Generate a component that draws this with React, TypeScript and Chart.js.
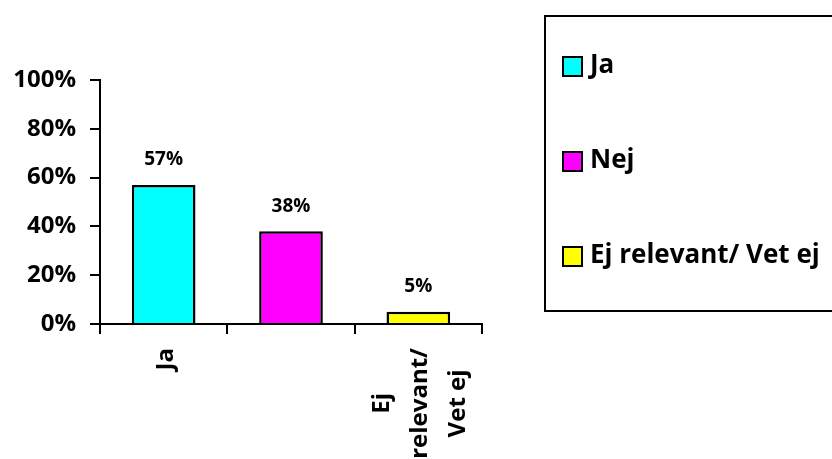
import React, { useEffect, useRef } from "react";
import { Chart, registerables } from "chart.js";

Chart.register(...registerables);

const categories = ["Ja", "Nej", "Ej relevant/ Vet ej"];
const values = [57, 38, 5];
const xTickLabels: (string | string[])[] = ["Ja", "", ["Ej", "relevant/", "Vet ej"]];
const yTicks = [0, 20, 40, 60, 80, 100];
const colors = ["#00FFFF", "#FF00FF", "#FFFF00"];

const FONT = '"Open Sans", "Noto Sans", sans-serif';

const valueLabels = {
  id: "valueLabels",
  afterDatasetsDraw(chart: any) {
    const ctx = chart.ctx;
    const meta = chart.getDatasetMeta(0);
    ctx.save();
    ctx.font = `bold 19px ${FONT}`;
    ctx.fillStyle = "#000";
    ctx.textAlign = "center";
    ctx.textBaseline = "middle";
    meta.data.forEach((el: any, i: number) => {
      ctx.fillText(values[i] + "%", el.x, el.y - 25);
    });
    ctx.restore();
  },
};

const xLabels = {
  id: "xLabels",
  afterDraw(chart: any) {
    const xs = chart.scales.x;
    const ctx = chart.ctx;
    ctx.save();
    ctx.font = `bold 24px ${FONT}`;
    ctx.fillStyle = "#000";
    ctx.textAlign = "center";
    ctx.textBaseline = "middle";
    const lineGap = 38;
    xTickLabels.forEach((lab, i) => {
      const lines = Array.isArray(lab) ? lab : [lab];
      if (!lines.join("")) return;
      const maxW = Math.max(...lines.map((l) => ctx.measureText(l).width));
      const cx = xs.getPixelForTick(i);
      ctx.save();
      ctx.translate(cx + 2, xs.top + 24);
      ctx.rotate(-Math.PI / 2);
      lines.forEach((l, k) => {
        ctx.fillText(l, -maxW / 2, (k - (lines.length - 1) / 2) * lineGap);
      });
      ctx.restore();
    });
    ctx.restore();
  },
};

const boxLegend = {
  id: "boxLegend",
  afterDraw(chart: any) {
    const ctx = chart.ctx;
    ctx.save();
    ctx.strokeStyle = "#000";
    ctx.lineWidth = 2;
    ctx.strokeRect(545, 16, 300, 295);
    ctx.font = `bold 26px ${FONT}`;
    ctx.textBaseline = "middle";
    ctx.textAlign = "left";
    categories.forEach((c, i) => {
      const cy = 66 + i * 95;
      ctx.fillStyle = colors[i];
      ctx.fillRect(563, cy - 9, 19, 19);
      ctx.strokeStyle = "#000";
      ctx.strokeRect(563, cy - 9, 19, 19);
      ctx.fillStyle = "#000";
      ctx.fillText(c, 590, cy);
    });
    ctx.restore();
  },
};

export default function App() {
  const ref = useRef<HTMLCanvasElement | null>(null);

  useEffect(() => {
    document.body.style.margin = "0";
    let chart: Chart | null = null;
    let cancelled = false;
    const make = () => {
      if (cancelled || !ref.current) return;
      chart = new Chart(ref.current, {
        type: "bar",
        data: {
          labels: categories,
          datasets: [
            {
              data: values,
              backgroundColor: colors,
              borderColor: "#000",
              borderWidth: 2.5,
              barPercentage: 0.5,
              categoryPercentage: 1,
            },
          ],
        },
        options: {
          responsive: false,
          animation: false,
          layout: { padding: { top: 80, right: 350, bottom: 0, left: 0 } },
          plugins: { legend: { display: false }, tooltip: { enabled: false } },
          scales: {
            x: {
              grid: {
                drawOnChartArea: false,
                drawTicks: true,
                tickLength: 10,
                color: "#000",
                lineWidth: 2,
                offset: true,
              },
              border: { display: true, color: "#000", width: 2 },
              ticks: { display: false },
              afterFit: (s: any) => {
                s.height = 135;
              },
            },
            y: {
              min: 0,
              max: 100,
              afterBuildTicks: (s: any) => {
                s.ticks = yTicks.map((v) => ({ value: v }));
              },
              ticks: {
                callback: (v: any) => v + "%",
                font: { family: FONT, size: 24, weight: "bold" },
                color: "#000",
                padding: 14,
              },
              grid: { drawOnChartArea: false, tickLength: 10, color: "#000", lineWidth: 2 },
              border: { color: "#000", width: 2 },
              afterFit: (s: any) => {
                s.width = 100;
              },
            },
          },
        },
        plugins: [valueLabels, xLabels, boxLegend],
      } as any);
    };
    const fontsApi = (document as any).fonts;
    if (fontsApi && fontsApi.load) {
      Promise.all([
        fontsApi.load(`bold 24px "Open Sans"`),
        fontsApi.load(`bold 19px "Open Sans"`),
      ])
        .catch(() => {})
        .then(make);
    } else {
      make();
    }
    return () => {
      cancelled = true;
      if (chart) chart.destroy();
    };
  }, []);

  return (
    <canvas
      ref={ref}
      width={832}
      height={459}
      style={{ display: "block", width: 832, height: 459 }}
    />
  );
}
